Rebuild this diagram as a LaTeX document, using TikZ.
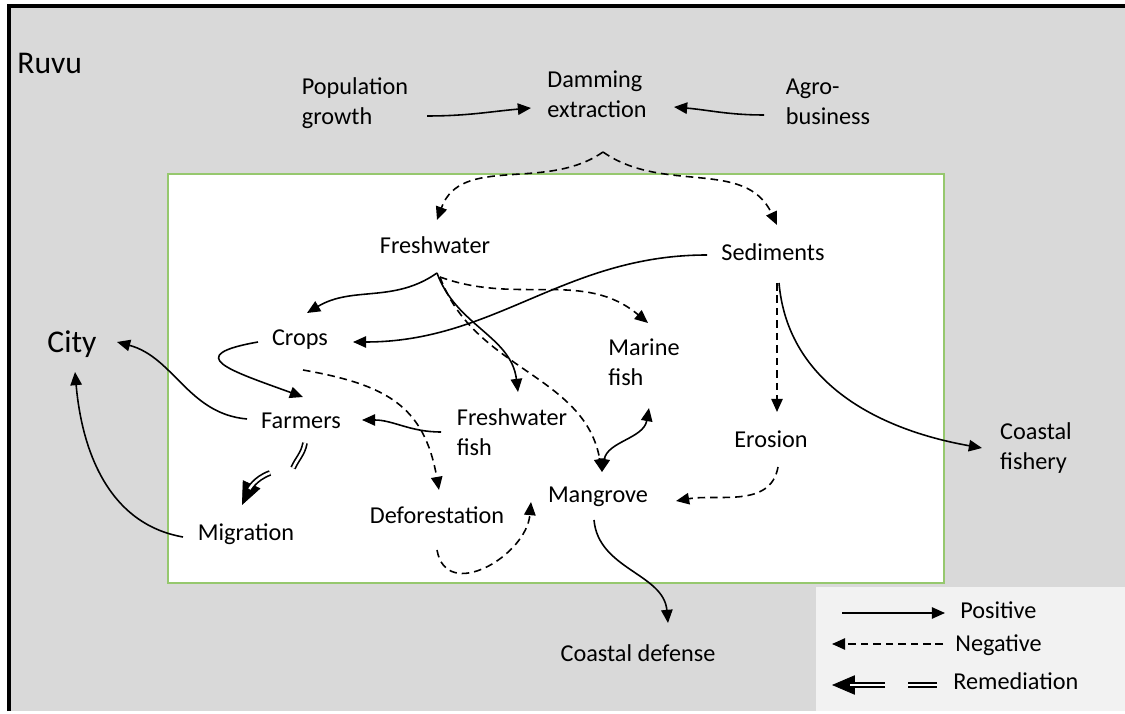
\documentclass[tikz,border=0pt]{standalone}
\usepackage{fontspec}
\setmainfont{Carlito}
\usetikzlibrary{arrows.meta}

\definecolor{bggray}{HTML}{D9D9D9}
\definecolor{leggray}{HTML}{F2F2F2}
\definecolor{boxgreen}{RGB}{150,200,110}

\tikzset{
  posedge/.style={draw, ->, line width=0.9pt},
  negedge/.style={posedge, dash pattern=on 4.3pt off 2.8pt},
  remline/.style={draw, double, double distance=1.4pt, line width=0.95pt},
  remtip/.style={draw, -{Triangle[length=13pt,width=11pt]}, line width=0.4pt},
}

\begin{document}
\begin{tikzpicture}[x=0.02cm, y=0.02cm, >={Triangle[length=7.5pt,width=6.5pt]}]

      \useasboundingbox (0,0) rectangle (1125,713);
      % frames
      \fill[bggray] (9,2) rectangle (1125,707);
      \fill[leggray] (816,2) rectangle (1125,126);
      \draw[line width=2pt] (9,2) -- (9,707) -- (1125,707);
      \draw[boxgreen, fill=white, line width=1pt] (168,130) rectangle (944,539);

      \begin{scope}[every node/.style={font=\fontsize{13.8}{17}\selectfont, align=left}]
        \node[font=\fontsize{18}{22}\selectfont, anchor=west, inner sep=0pt] (ruvu) at (17,650) {Ruvu};
        \node[font=\fontsize{18}{22}\selectfont] (city) at (72,369) {City};
        \node (pop)      at (355,610) {Population\\growth};
        \node (dam)      at (597,619) {Damming\\extraction};
        \node (agro)     at (828,611) {Agro-\\business};
        \node (fresh)    at (435,468) {Freshwater};
        \node (sed)      at (773,461) {Sediments};
        \node (crops)    at (300,373) {Crops};
        \node (marine)   at (644,351) {Marine\\fish};
        \node (farmers)  at (301,292) {Farmers};
        \node (ffish)    at (512,281) {Freshwater\\fish};
        \node (erosion)  at (771,274) {Erosion};
        \node (cfish)    at (1036,265) {Coastal\\fishery};
        \node (mangrove) at (598,216) {Mangrove};
        \node (defor)    at (437,198) {Deforestation};
        \node (migr)     at (246,179) {Migration};
        \node (cdef)     at (638,60)  {Coastal defense};
        % legend
        \node[anchor=west, inner sep=0pt] (lpos) at (960,103) {Positive};
        \node[anchor=west, inner sep=0pt] (lneg) at (955,68)  {Negative};
        \node[anchor=west, inner sep=0pt] (lrem) at (953,32)  {Remediation};
      \end{scope}

      % positive links
      \path ([shift={(72,-13)}]pop.center)     edge[posedge, out=0, in=185]   ([shift={(-66,-14)}]dam.center);
      \path ([shift={(-64,-13)}]agro.center)   edge[posedge, out=180, in=-5]  ([shift={(77,-13)}]dam.center);
      \path ([shift={(2,-28)}]fresh.center)    edge[posedge, out=215, in=31]  ([shift={(7,27)}]crops.center);
      \path ([shift={(2,-28)}]fresh.center)    edge[posedge, out=-70, in=97]  ([shift={(6,40)}]ffish.center);
      \path ([shift={(-66,-3)}]sed.center)     edge[posedge, out=180, in=0]   ([shift={(53,-2)}]crops.center);
      \path ([shift={(6,-31)}]sed.center)      edge[posedge, out=-85, in=170] ([shift={(-54,0)}]cfish.center);
      \path ([shift={(-42,-2)}]crops.center)   edge[posedge, out=190, in=160, looseness=2.8] ([shift={(2,24)}]farmers.center);
      \path ([shift={(-71,0)}]ffish.center)    edge[posedge, out=180, in=0]   ([shift={(61,1)}]farmers.center);
      \path ([shift={(5,-46)}]marine.center)   edge[posedge, <->, out=-100, in=80] ([shift={(4,25)}]mangrove.center);
      \path ([shift={(-4,-23)}]mangrove.center) edge[posedge, out=-85, in=95] ([shift={(30,30)}]cdef.center);
      \path ([shift={(-54,2)}]farmers.center)  edge[posedge, out=175, in=-15] ([shift={(45,2)}]city.center);
      \path ([shift={(-63,-3)}]migr.center)    edge[posedge, out=170, in=-85] ([shift={(3,-28)}]city.center);

      % negative links
      \path ([shift={(6,-58)}]dam.center)      edge[negedge, out=215, in=70]  ([shift={(2,25)}]fresh.center);
      \path ([shift={(6,-58)}]dam.center)      edge[negedge, out=-35, in=115] ([shift={(4,27)}]sed.center);
      \path ([shift={(5,-32)}]fresh.center)    edge[negedge, out=-20, in=140] ([shift={(4,39)}]marine.center);
      \path ([shift={(5,-32)}]fresh.center)    edge[negedge, out=-70, in=100] ([shift={(4,25)}]mangrove.center);
      \path ([shift={(4,-31)}]sed.center)      edge[negedge]                  ([shift={(6,27)}]erosion.center);
      \path ([shift={(3,-30)}]crops.center)    edge[negedge, out=-10, in=100, looseness=1.2] ([shift={(2,25)}]defor.center);
      \path ([shift={(7,-28)}]erosion.center)  edge[negedge, out=-100, in=10] ([shift={(78,-4)}]mangrove.center);
      \path ([shift={(0,-35)}]defor.center)    edge[negedge, out=-80, in=-95, looseness=1.3] ([shift={(-67,-5)}]mangrove.center);

      % remediation
      \path ([shift={(4,-22)}]farmers.center)  edge[remline, out=-100, in=65] ([shift={(-8,-47)}]farmers.center);
      \path ([shift={(24,61)}]migr.center)     edge[remtip, out=200, in=65]   ([shift={(-4,29)}]migr.center);
      \path ([shift={(24,61)}]migr.center)     edge[remline, out=200, in=65, shorten >=10pt] ([shift={(-4,29)}]migr.center);

      % legend lines
      \coordinate (posA) at (842,100);
      \coordinate (posB) at (945,100);
      \coordinate (negA) at (943,69);
      \coordinate (negB) at (832,69);
      \coordinate (remA) at (885,28);
      \coordinate (remB) at (832,28);
      \coordinate (remC) at (908,28);
      \coordinate (remD) at (937,28);
      \path (posA) edge[posedge] (posB);
      \path (negA) edge[negedge] (negB);
      \path (remA) edge[remtip] (remB);
      \path (remA) edge[remline, shorten >=10pt] (remB);
      \path (remC) edge[remline] (remD);

    \end{tikzpicture}
\end{document}
